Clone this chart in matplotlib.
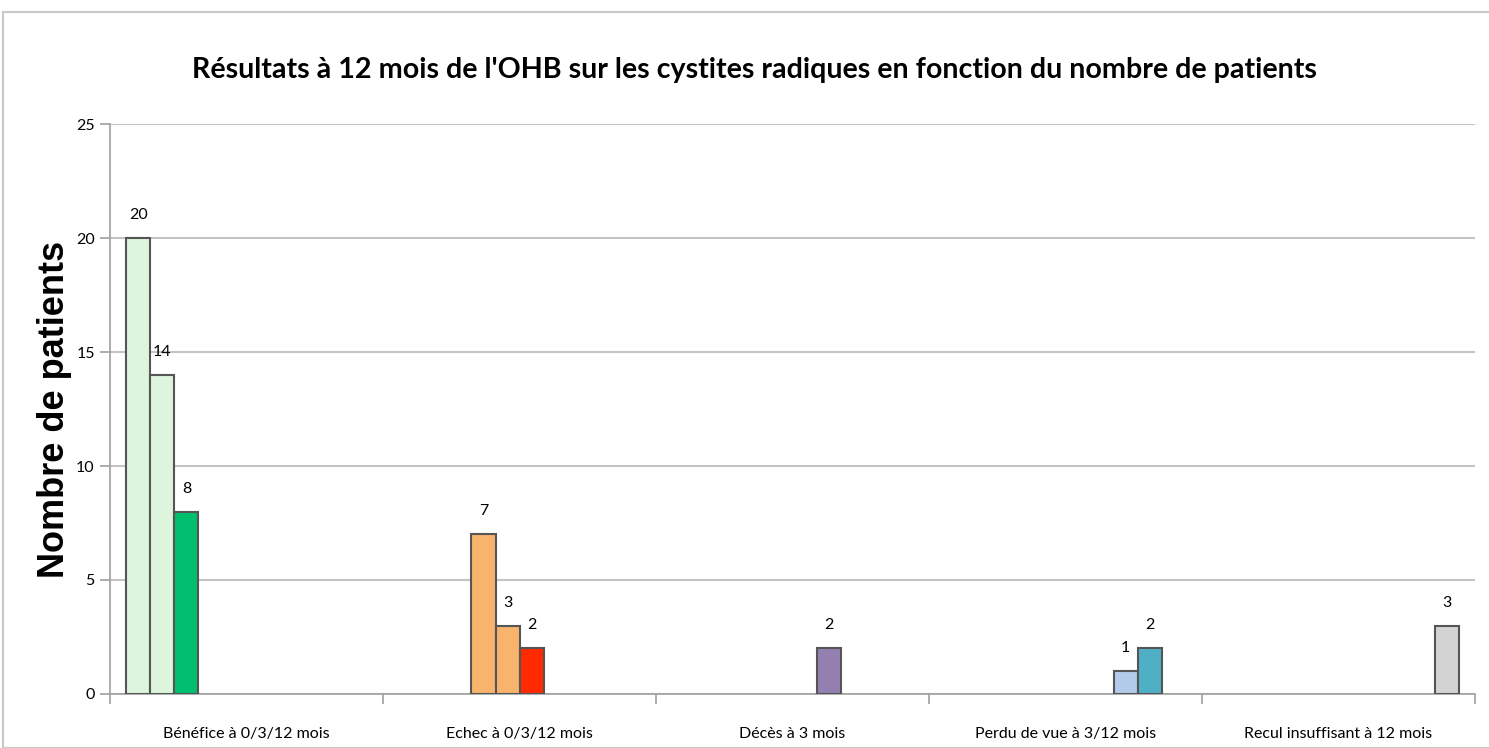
import matplotlib.pyplot as plt
import numpy as np
from matplotlib.patches import Rectangle

categories = ['Bénéfice à 0/3/12 mois', 'Echec à 0/3/12 mois', 'Décès à 3 mois',
              'Perdu de vue à 3/12 mois', 'Recul insuffisant à 12 mois']

# une série par barre (style Excel), 0 = pas de barre
s1 = [20, 0, 0, 0, 0]
s2 = [14, 0, 0, 0, 0]
s3 = [8, 0, 0, 0, 0]
s4 = [0, 7, 0, 0, 0]
s5 = [0, 3, 0, 0, 0]
s6 = [0, 2, 0, 0, 0]
s7 = [0, 0, 2, 0, 0]
s8 = [0, 0, 0, 1, 0]
s9 = [0, 0, 0, 2, 0]
s10 = [0, 0, 0, 0, 3]
series = [s1, s2, s3, s4, s5, s6, s7, s8, s9, s10]
colors = ['#dcf5dc', '#dcf5dc', '#00bf6f', '#f8b46c', '#f8b46c', '#ff2a00',
          '#9480b0', '#b3cbea', '#4fafc4', '#d3d3d3']

small_font = 'Lato'

fig = plt.figure(figsize=(14.89, 7.48), dpi=100)
fig.patches.append(Rectangle((0.002, 0.0), 1.0, 0.984, transform=fig.transFigure,
                             fill=False, edgecolor='#c8c8c8', linewidth=1.5))
ax = fig.add_axes([0.0739, 0.0722, 0.9167, 0.762])

n = len(series)
w = 0.88 / n
x = np.arange(len(categories))
for i, (vals, c) in enumerate(zip(series, colors)):
    pos = x - 0.44 + w * (i + 0.5)
    for p, v in zip(pos, vals):
        if v == 0:
            continue
        ax.bar(p, v, width=w, color=c, edgecolor='#555555', linewidth=1.5, zorder=3)
        ax.text(p, v + 0.7, str(v), ha='center', va='bottom', fontsize=11.5,
                family=small_font)

ax.set_xlim(-0.5, len(categories) - 0.5)
ax.set_ylim(0, 25)
ax.set_yticks([0, 5, 10, 15, 20, 25])
ax.set_xticks(x)
ax.set_xticklabels(categories, fontsize=11.5, family=small_font)
ax.set_xticks(np.arange(len(categories) + 1) - 0.5, minor=True)
ax.tick_params(axis='x', which='major', length=0, pad=24)
ax.tick_params(axis='x', which='minor', length=7, color='#a0a0a0', width=1.2)
ax.tick_params(axis='y', length=7, color='#a0a0a0', width=1.2, pad=4, labelsize=11.5)
for lab in ax.get_yticklabels():
    lab.set_family(small_font)

ax.grid(axis='y', color='#c4c4c4', linewidth=1.5, zorder=0)
for side in ['top', 'right']:
    ax.spines[side].set_visible(False)
ax.spines['left'].set_color('#a0a0a0')
ax.spines['bottom'].set_color('#a0a0a0')
ax.spines['left'].set_linewidth(1.2)
ax.spines['bottom'].set_linewidth(1.2)

ax.set_ylabel('Nombre de patients', fontsize=26, fontweight='bold',
              family='Liberation Sans')
ax.yaxis.set_label_coords(-0.028, 0.5)
fig.text(0.507, 0.906,
         "Résultats à 12 mois de l'OHB sur les cystites radiques en fonction du nombre de patients",
         ha='center', va='center', fontsize=20.6, fontweight='bold', family='Lato')

plt.savefig('out.png', dpi=100)
